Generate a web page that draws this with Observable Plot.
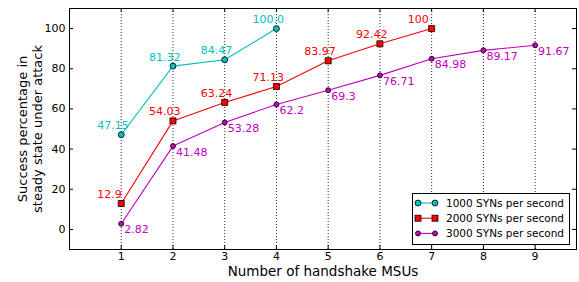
<!DOCTYPE html>
<html>
<head>
<meta charset="utf-8">
<script src="https://cdn.jsdelivr.net/npm/d3@7"></script>
<script src="https://cdn.jsdelivr.net/npm/@observablehq/plot@0.6"></script>
<style>
  html, body { margin: 0; padding: 0; background: white; }
  #chart { position: relative; width: 579px; height: 282px; }
</style>
</head>
<body>
<div id="chart"></div>
<script>
// ---- data ----
const seriesNames = ["1000 SYNs per second", "2000 SYNs per second", "3000 SYNs per second"];
const seriesColors = ["#00bfbf", "#ff0000", "#bf00bf"];

const msus1000 = [1, 2, 3, 4];
const success1000 = [47.15, 81.32, 84.47, 100.0];
const labels1000 = ["47.15", "81.32", "84.47", "100.0"];

const msus2000 = [1, 2, 3, 4, 5, 6, 7];
const success2000 = [12.9, 54.03, 63.24, 71.13, 83.97, 92.42, 100];
const labels2000 = ["12.9", "54.03", "63.24", "71.13", "83.97", "92.42", "100"];

const msus3000 = [1, 2, 3, 4, 5, 6, 7, 8, 9];
const success3000 = [2.82, 41.48, 53.28, 62.2, 69.3, 76.71, 84.98, 89.17, 91.67];
const labels3000 = ["2.82", "41.48", "53.28", "62.2", "69.3", "76.71", "84.98", "89.17", "91.67"];

const xTicks = [1, 2, 3, 4, 5, 6, 7, 8, 9];
const yTicks = [0, 20, 40, 60, 80, 100];

const xLabel = "Number of handshake MSUs";
const yLabel = "Success percentage in\nsteady state under attack";

// ---- build tables ----
const mk = (xs, ys, ls) => xs.map((x, i) => ({x, y: ys[i], label: ls[i]}));
const s1 = mk(msus1000, success1000, labels1000);
const s2 = mk(msus2000, success2000, labels2000);
const s3 = mk(msus3000, success3000, labels3000);

const W = 579, H = 282;
const mL = 69, mR = 3, mT = 8, mB = 33;
const fw = W - mL - mR, fh = H - mT - mB;
const tk = 4;

const chart = Plot.plot({
  width: W, height: H,
  marginLeft: mL, marginRight: mR, marginTop: mT, marginBottom: mB,
  style: {fontFamily: "DejaVu Sans", fontSize: "11px", background: "white", color: "black", overflow: "visible"},
  x: {domain: [0, 9.8]},
  y: {domain: [-10, 110]},
  marks: [
    Plot.gridX(xTicks, {stroke: "black", strokeOpacity: 0.85, strokeDasharray: "1,2", strokeWidth: 1}),
    // tick labels
    Plot.axisX(xTicks, {tickSize: 0, tickPadding: 3, label: null, fontSize: 11}),
    Plot.axisY(yTicks, {tickSize: 0, tickPadding: 4, label: null, fontSize: 11}),
    // inward ticks on all sides
    Plot.tickX(xTicks, {x: d => d, insetTop: fh - tk, stroke: "black"}),
    Plot.tickX(xTicks, {x: d => d, insetBottom: fh - tk, stroke: "black"}),
    Plot.tickY(yTicks, {y: d => d, insetRight: fw - tk, stroke: "black"}),
    Plot.tickY(yTicks, {y: d => d, insetLeft: fw - tk, stroke: "black"}),
    // lines
    Plot.line(s1, {x: "x", y: "y", stroke: seriesColors[0], strokeWidth: 1.1}),
    Plot.line(s2, {x: "x", y: "y", stroke: seriesColors[1], strokeWidth: 1.1}),
    Plot.line(s3, {x: "x", y: "y", stroke: seriesColors[2], strokeWidth: 1.1}),
    // markers
    Plot.dot(s1, {x: "x", y: "y", r: 3, fill: seriesColors[0], stroke: "black", strokeWidth: 0.8}),
    Plot.dot(s2, {x: "x", y: "y", r: 3.4, symbol: "square", fill: seriesColors[1], stroke: "black", strokeWidth: 0.8}),
    Plot.dot(s3, {x: "x", y: "y", r: 2.5, fill: seriesColors[2], stroke: "black", strokeWidth: 0.8}),
    // value labels
    Plot.text(s1, {x: "x", y: "y", text: "label", textAnchor: "start", dx: -24, dy: -9, fill: seriesColors[0], fontSize: 11}),
    Plot.text(s2, {x: "x", y: "y", text: "label", textAnchor: "start", dx: -24, dy: -9, fill: seriesColors[1], fontSize: 11}),
    Plot.text(s3, {x: "x", y: "y", text: "label", textAnchor: "start", dx: 3, dy: 6, fill: seriesColors[2], fontSize: 11}),
    // axis titles
    Plot.text([xLabel], {frameAnchor: "bottom", textAnchor: "middle", lineAnchor: "middle", dy: 22.5, fontSize: 13.5, fill: "black"}),
    Plot.text([yLabel], {frameAnchor: "left", textAnchor: "middle", lineAnchor: "middle", dx: -40, rotate: -90, fontSize: 13, lineHeight: 1.2, fill: "black"}),
    Plot.frame({stroke: "black", strokeWidth: 1})
  ]
});

document.getElementById("chart").appendChild(chart);

// ---- legend ----
const svg = d3.select(chart);
const lg = svg.append("g").attr("font-family", "DejaVu Sans").attr("font-size", 10.5).attr("text-anchor", "start");
lg.append("rect").attr("x", 412.5).attr("y", 193.5).attr("width", 157).attr("height", 51)
  .attr("fill", "white").attr("stroke", "black");
seriesNames.forEach((name, i) => {
  const yy = 203 + i * 15.2;
  const g = lg.append("g");
  g.append("line").attr("x1", 418).attr("x2", 435).attr("y1", yy).attr("y2", yy)
    .attr("stroke", seriesColors[i]).attr("stroke-width", 1.1);
  [418, 435].forEach(cx => {
    if (i === 1) {
      g.append("rect").attr("x", cx - 3).attr("y", yy - 3).attr("width", 6).attr("height", 6)
        .attr("fill", seriesColors[i]).attr("stroke", "black").attr("stroke-width", 0.8);
    } else {
      g.append("circle").attr("cx", cx).attr("cy", yy).attr("r", i === 0 ? 3 : 2.5)
        .attr("fill", seriesColors[i]).attr("stroke", "black").attr("stroke-width", 0.8);
    }
  });
  g.append("text").attr("x", 446).attr("y", yy).attr("dy", "0.35em").attr("text-anchor", "start")
    .attr("fill", "black").text(name);
});
</script>
</body>
</html>
